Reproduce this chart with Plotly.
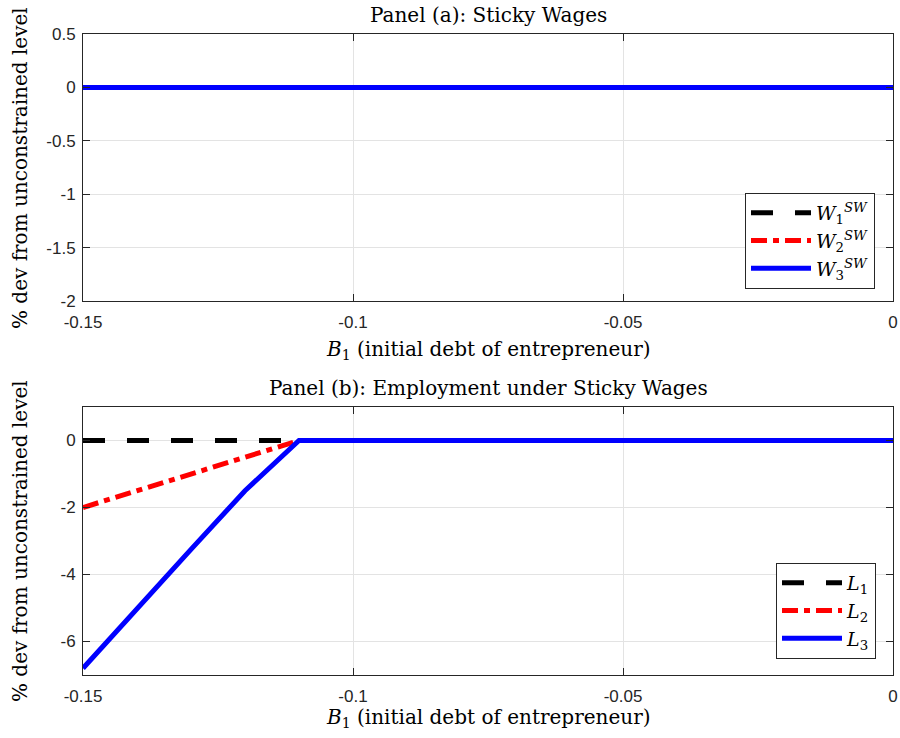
import plotly.graph_objects as go

# Data
b1 = [-0.15, -0.14, -0.13, -0.12, -0.11, -0.10, -0.05, 0.0]
w1 = [0, 0, 0, 0, 0, 0, 0, 0]
w2 = [0, 0, 0, 0, 0, 0, 0, 0]
w3 = [0, 0, 0, 0, 0, 0, 0, 0]
l1 = [0, 0, 0, 0, 0, 0, 0, 0]
l2 = [-2.0, -1.5, -1.0, -0.5, 0, 0, 0, 0]
l3 = [-6.8, -5.0, -3.25, -1.5, 0, 0, 0, 0]

names_top = ["<i>W</i><sub>1</sub><sup><i>SW</i></sup>",
             "<i>W</i><sub>2</sub><sup><i>SW</i></sup>",
             "<i>W</i><sub>3</sub><sup><i>SW</i></sup>"]
names_bot = ["<i>L</i><sub>1</sub>", "<i>L</i><sub>2</sub>", "<i>L</i><sub>3</sub>"]

colors = ["#000000", "#ff0000", "#0000ff"]
dashes = ["22px,22px", "16px,6px,6px,6px", "solid"]
SERIF = "DejaVu Serif"
SANS = "Liberation Sans"

fig = go.Figure()
for ys, nm, c, d in zip([w1, w2, w3], names_top, colors, dashes):
    fig.add_trace(go.Scatter(x=b1, y=ys, mode="lines", name=nm,
                             line=dict(color=c, width=5, dash=d),
                             xaxis="x", yaxis="y", legend="legend"))
for ys, nm, c, d in zip([l1, l2, l3], names_bot, colors, dashes):
    fig.add_trace(go.Scatter(x=b1, y=ys, mode="lines", name=nm,
                             line=dict(color=c, width=5, dash=d),
                             xaxis="x2", yaxis="y2", legend="legend2"))

axcommon = dict(showline=True, linecolor="#262626", linewidth=1, mirror="ticks",
                ticks="inside", ticklen=7, tickcolor="#262626", automargin=False,
                showgrid=True, gridcolor="#e3e3e3", gridwidth=1, zeroline=False,
                tickfont=dict(family=SANS, size=17, color="#262626"))

xd = [83/900, 893/900]
xtk = dict(ticklabelstandoff=6)
ytk = dict(ticklabelstandoff=3)
fig.update_layout(
    width=900, height=738,
    margin=dict(l=0, r=0, t=0, b=0),
    paper_bgcolor="white", plot_bgcolor="white",
    xaxis=dict(domain=xd, range=[-0.15, 0], tickvals=[-0.15, -0.1, -0.05, 0],
               ticktext=["-0.15", "-0.1", "-0.05", "0"], anchor="y", **xtk, **axcommon),
    yaxis=dict(domain=[1-301/738, 1-34/738], range=[-2, 0.5],
               tickvals=[-2, -1.5, -1, -0.5, 0, 0.5],
               ticktext=["-2", "-1.5", "-1", "-0.5", "0", "0.5"], anchor="x", **ytk, **axcommon),
    xaxis2=dict(domain=xd, range=[-0.15, 0], tickvals=[-0.15, -0.1, -0.05, 0],
                ticktext=["-0.15", "-0.1", "-0.05", "0"], anchor="y2", **xtk, **axcommon),
    yaxis2=dict(domain=[1-675/738, 1-407/738], range=[-7, 1],
                tickvals=[-6, -4, -2, 0], ticktext=["-6", "-4", "-2", "0"],
                anchor="x2", **ytk, **axcommon),
    legend=dict(x=875/900, y=1-193/738, xanchor="right", yanchor="top",
                bgcolor="white", bordercolor="#262626", borderwidth=1, itemwidth=60,
                font=dict(family=SERIF, size=19, color="#000"), tracegroupgap=0),
    legend2=dict(x=876/900, y=1-563/738, xanchor="right", yanchor="top",
                 bgcolor="white", bordercolor="#262626", borderwidth=1, itemwidth=60,
                 font=dict(family=SERIF, size=19, color="#000"), tracegroupgap=0),
    showlegend=True,
)

ann_font = dict(family=SERIF, size=20, color="#000")
anns = [
    dict(text="Panel (a): Sticky Wages", x=488/900, y=1-15/738),
    dict(text="Panel (b): Employment under Sticky Wages", x=488/900, y=1-388/738),
    dict(text="<i>B</i><sub>1</sub> (initial debt of entrepreneur)", x=488/900, y=1-350/738),
    dict(text="<i>B</i><sub>1</sub> (initial debt of entrepreneur)", x=488/900, y=1-718/738),
]
for a in anns:
    fig.add_annotation(xref="paper", yref="paper", showarrow=False,
                       xanchor="center", yanchor="middle", font=ann_font, **a)
for yc in [168, 541]:
    fig.add_annotation(text="% dev from unconstrained level", xref="paper", yref="paper",
                       x=20/900, y=1-yc/738, textangle=-90, showarrow=False,
                       xanchor="center", yanchor="middle", font=ann_font)

fig.write_html("out.html")
